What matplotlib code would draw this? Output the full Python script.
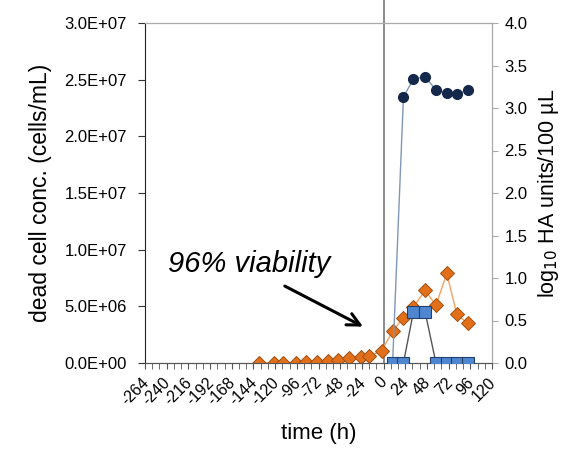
import matplotlib
matplotlib.use("Agg")
import matplotlib.pyplot as plt
import matplotlib.transforms as mtransforms
import numpy as np

plt.rcParams['font.family'] = ['Liberation Sans', 'DejaVu Sans']

# dead cell concentration (cells/mL), left axis
dead_t = [-138, -121, -111, -97, -86, -74, -62, -50, -38, -25, -16, -2,
          10, 22, 33, 46, 58, 70, 81, 93]
dead_conc = [0.0, 0.0, 0.0, 0.0, 0.1e6, 0.1e6, 0.2e6, 0.27e6, 0.4e6, 0.56e6, 0.6e6, 1.1e6,
             2.8e6, 4.0e6, 4.95e6, 6.4e6, 5.1e6, 7.9e6, 4.3e6, 3.5e6]

# log10 HA units/100 uL, right axis
ha_low_t = [10, 22, 33, 46, 58, 70, 81, 93]
ha_low = [0.0, 0.0, 0.6, 0.6, 0.0, 0.0, 0.0, 0.0]

ha_high_t = [10, 22, 33, 46, 58, 70, 81, 93]
ha_high = [0.0, 3.13, 3.34, 3.37, 3.21, 3.18, 3.16, 3.21]

xticks = list(range(-264, 121, 24))
left_ticks = [0, 5e6, 1e7, 1.5e7, 2e7, 2.5e7, 3e7]
left_labels = ['0.0E+00', '5.0E+06', '1.0E+07', '1.5E+07', '2.0E+07', '2.5E+07', '3.0E+07']

fig = plt.figure(figsize=(5.67, 4.5), dpi=100)
ax = fig.add_axes([145 / 567, 1 - 363 / 450, (492 - 145) / 567, (363 - 23) / 450])
ax2 = ax.twinx()

ax.set_xlim(-264, 120)
ax.set_ylim(0, 3.0e7)
ax2.set_ylim(0, 4.0)

ax.plot(dead_t, dead_conc, color='#f5a262', lw=1.0, marker='D', ms=6.8,
        mfc='#e2701a', mec='#a04e10', mew=0.7, zorder=3)

ax2.plot(ha_high_t, ha_high, color='#7f97b8', lw=1.0, marker='o', ms=7,
         mfc='#13284a', mec='#13284a', zorder=2)
ax2.plot(ha_low_t, ha_low, color='#555555', lw=1.0, marker='s', ms=8,
         mfc='#4f86d0', mec='#233f6a', mew=0.8, zorder=3)

# time zero marker
ax.plot([0, 0], [0, 3.2e7], color='#777777', lw=1.2, clip_on=False, zorder=1)

ax.set_xticks(xticks)
ax.set_xticks(np.arange(-264, 121, 8), minor=True)
ax.set_xticklabels([str(v) for v in xticks], rotation=45, ha='right',
                   rotation_mode='anchor', fontsize=11.5)
ax.tick_params(axis='x', which='both', direction='out', length=4, color='#555555', pad=3)
shift = mtransforms.ScaledTranslation(-4 / 100, -2 / 100, fig.dpi_scale_trans)
for lbl in ax.get_xticklabels():
    lbl.set_transform(lbl.get_transform() + shift)

ax.set_yticks(left_ticks)
ax.set_yticklabels(left_labels, fontsize=12)
ax.tick_params(axis='y', direction='out', length=5, color='#333333', pad=8)

ax2.set_yticks(np.arange(0, 4.01, 0.5))
ax2.set_yticklabels(['%.1f' % v for v in np.arange(0, 4.01, 0.5)], fontsize=12)
ax2.tick_params(axis='y', direction='out', length=4, color='#aaaaaa', pad=5)

for s in ['top', 'right']:
    ax.spines[s].set_color('#888888')
    ax2.spines[s].set_color('#aaaaaa')
ax.spines['bottom'].set_color('#555555')
ax2.spines['bottom'].set_color('#555555')
ax.spines['left'].set_color('#222222')
ax2.spines['left'].set_visible(False)

ax.set_ylabel('dead cell conc. (cells/mL)', fontsize=16.5, labelpad=9)
ax2.set_ylabel(r'log$_{10}$ HA units/100 µL', fontsize=15.5, labelpad=6)
ax.set_xlabel('time (h)', fontsize=16, labelpad=11)

ax.annotate('', xy=(-20, 3.1e6), xytext=(-112, 6.9e6),
            arrowprops=dict(arrowstyle='->,head_length=0.9,head_width=0.45',
                            color='black', lw=2.2))
ax.text(-238, 8.7e6, '96% viability', fontsize=21, style='italic', va='center')

fig.savefig('out.png', dpi=100)
